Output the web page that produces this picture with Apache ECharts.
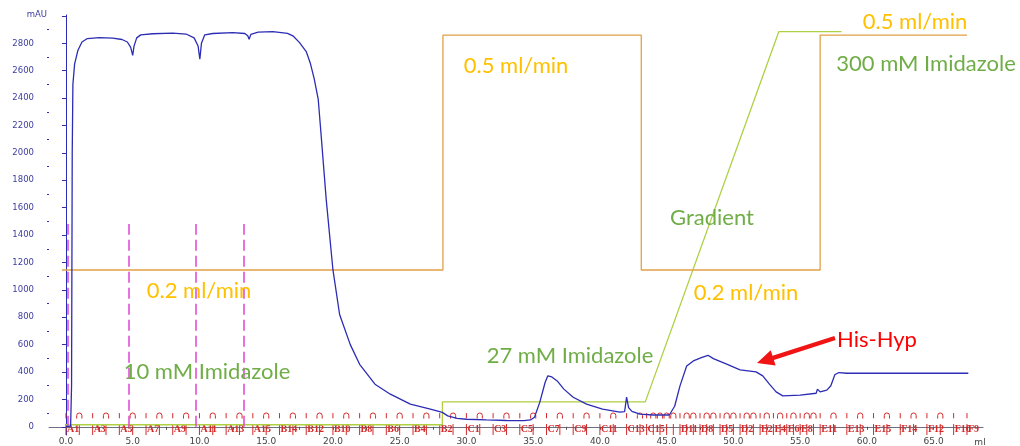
<!DOCTYPE html>
<html>
<head>
<meta charset="utf-8">
<script src="https://cdn.jsdelivr.net/npm/echarts@6/dist/echarts.min.js"></script>
<style>
  html, body { margin: 0; padding: 0; background: #ffffff; }
  #chart { width: 1020px; height: 446px; }
</style>
</head>
<body>
<div id="chart"></div>
<script>
// UV absorbance trace: elution volume (ml) and absorbance (mAU)
const uvVolume = [0.0, 0.35, 0.42, 0.47, 0.52, 0.65, 0.9, 1.2, 1.6, 2.5, 3.5, 4.2, 4.6, 4.85, 5.0, 5.1, 5.3, 5.6, 6.5, 8.0,
  9.0, 9.6, 9.9, 10.03, 10.15, 10.4, 11.0, 12.5, 13.4, 13.62, 13.72, 13.85, 14.4, 15.5, 16.6, 17.0, 17.5, 18.0, 18.3, 18.6,
  18.9, 19.1, 19.5, 20.0, 20.5, 21.3, 22.0, 23.15, 24.3, 25.8, 27.3, 28.2, 28.6, 29.3, 30.0, 31.5, 33.0, 34.3, 34.8, 35.1,
  35.5, 35.9, 36.1, 36.4, 36.8, 37.3, 38.0, 39.0, 40.2, 41.5, 41.85, 42.0, 42.15, 42.4, 43.0, 44.0, 45.2, 45.6, 46.0, 46.5,
  47.0, 47.6, 48.1, 48.5, 49.5, 50.5, 51.7, 52.2, 52.7, 53.2, 53.7, 55.0, 56.2, 56.3, 56.5, 57.0, 57.3, 57.6, 57.9, 58.5, 67.6];
const uvAbs = [2, 5, 300, 2000, 2500, 2650, 2750, 2810, 2835, 2842, 2838, 2828, 2810, 2770, 2712, 2780, 2840, 2862, 2870, 2875,
  2868, 2840, 2780, 2684, 2800, 2862, 2872, 2878, 2872, 2855, 2830, 2865, 2882, 2885, 2873, 2855, 2805, 2740, 2657, 2540,
  2390, 2150, 1657, 1147, 820, 600, 456, 311, 238, 165, 129, 105, 80, 62, 55, 50, 46, 45, 50, 70,
  180, 325, 372, 364, 335, 275, 216, 165, 129, 107, 110, 216, 140, 112, 92, 86, 86, 150, 299, 444,
  481, 505, 522, 498, 457, 416, 401, 372, 311, 255, 226, 231, 245, 275, 255, 268, 300, 380, 396, 391, 391];

// Flow rate trace (drawn on the mAU scale)
const flowVolume = [-0.3, 28.24, 28.24, 43.1, 43.1, 56.5, 56.5, 67.5];
const flowLevel = [1145, 1145, 2860, 2860, 1145, 1145, 2860, 2860];

// Imidazole concentration trace (drawn on the mAU scale)
const concVolume = [0.0, 28.2, 28.2, 43.4, 53.4, 58.1];
const concLevel = [15, 15, 182, 182, 2885, 2885];

// Injection marks (ml) and their height (mAU)
const injectVolume = [0.15, 4.72, 9.74, 13.33];
const injectTop = 1480;

// Fraction collector marks
const fractionNames = ['A1','A2','A3','A4','A5','A6','A7','A8','A9','A10','A11','A12','A13','A14','A15',
  'B15','B14','B13','B12','B11','B10','B9','B8','B7','B6','B5','B4','B3','B2','B1',
  'C1','C2','C3','C4','C5','C6','C7','C8','C9','C10','C11','C12','C13','C14','C15',
  'D15','D14','D13','D12','D11','D10','D9','D8','D7','D6','D5','D4','D3','D2','D1',
  'E1','E2','E3','E4','E5','E6','E7','E8','E9','E10','E11','E12','E13','E14','E15',
  'F15','F14','F13','F12','F11','F10','F9'];
const fractionStarts = [0,1,2,3,4,5,6,7,8,9,10,11,12,13,14,
  15,16,17,18,19,20,21,22,23,24,25,26,27,28,29,
  30,31,32,33,34,35,36,37,38,39,40,41,42,43,43.5,
  44,44.5,45,45.5,46,46.5,47,47.5,48,48.5,49,49.5,50,50.5,51,
  51.5,52,52.5,53,53.5,54,54.5,55,55.5,56,56.5,57.5,58.5,59.5,60.5,
  61.5,62.5,63.5,64.5,65.5,66.5,67.5];
const labelledFractions = ['A1','A3','A5','A7','A9','A11','A13','A15','B14','B12','B10','B8','B6','B4','B2',
  'C1','C3','C5','C7','C9','C11','C13','C15','D11','D8','D5','D2','E2','E4','E6','E8','E11','E13','E15',
  'F14','F12','F10','F9'];

// Axis ticks and labels
const xLabelValues = [0,5,10,15,20,25,30,35,40,45,50,55,60,65];
const xTickValues = [0,2.5,5,7.5,10,12.5,15,17.5,20,22.5,25,27.5,30,32.5,35,37.5,40,42.5,45,47.5,50,52.5,55,57.5,60,62.5,65,67.5];
const yLabelValues = [0,200,400,600,800,1000,1200,1400,1600,1800,2000,2200,2400,2600,2800];
const yTickValues = [0,200,400,600,800,1000,1200,1400,1600,1800,2000,2200,2400,2600,2800,3000];
const yMinorValues = [100,300,500,700,900,1100,1300,1500,1700,1900,2100,2300,2500,2700,2900];

const UV_BLUE = '#2c2cb4';
const FLOW_ORANGE = '#e2a046';
const CONC_GREEN = '#aed043';
const INJECT_MAGENTA = '#e04fd8';
const FRAC_RED = '#d42a2a';
const GOLD_TEXT = '#ffc000';
const GREEN_TEXT = '#70ad47';

const pair = (xs, ys) => xs.map((x, i) => [x, ys[i]]);

const chart = echarts.init(document.getElementById('chart'), null, { renderer: 'canvas' });

// Red arrow pointing at the product peak
function arrowPoints(tail, tip, shaftHalf, headLen, headHalf) {
  const dx = tip[0] - tail[0], dy = tip[1] - tail[1];
  const len = Math.hypot(dx, dy);
  const ux = dx / len, uy = dy / len;
  const nx = -uy, ny = ux;
  const bx = tip[0] - ux * headLen, by = tip[1] - uy * headLen;
  return [
    [tail[0] + nx * shaftHalf, tail[1] + ny * shaftHalf],
    [bx + nx * shaftHalf, by + ny * shaftHalf],
    [bx + nx * headHalf, by + ny * headHalf],
    tip,
    [bx - nx * headHalf, by - ny * headHalf],
    [bx - nx * shaftHalf, by - ny * shaftHalf],
    [tail[0] - nx * shaftHalf, tail[1] - ny * shaftHalf]
  ];
}

const noteFont = '"Lato", "Open Sans", sans-serif';
function note(text, x, y, color) {
  return {
    type: 'text', x: x, y: y, z: 100,
    style: { text: text, fill: color, fontSize: 22, fontFamily: noteFont, align: 'center', verticalAlign: 'middle' }
  };
}

const option = {
  animation: false,
  backgroundColor: '#ffffff',
  grid: { left: 49, right: 37, top: 15, bottom: 10 },
  xAxis: {
    type: 'value', min: -1.27, max: 68.7,
    axisLine: { lineStyle: { color: '#6e6e80', width: 1 } },
    axisTick: { show: true, customValues: xTickValues, length: 3, lineStyle: { color: '#555555' } },
    axisLabel: {
      customValues: xLabelValues, formatter: v => v.toFixed(1), margin: 2,
      fontSize: 9, color: '#444444', fontFamily: '"DejaVu Sans", sans-serif'
    },
    splitLine: { show: false }
  },
  yAxis: [{
    type: 'value', min: -60, max: 3007,
    name: 'mAU', nameLocation: 'end', nameGap: 0,
    nameTextStyle: { color: '#3c3ca0', fontSize: 8.5, fontFamily: '"DejaVu Sans", sans-serif', align: 'right', verticalAlign: 'middle', padding: [0, 19, 0, 0] },
    axisLine: { show: true, lineStyle: { color: UV_BLUE, width: 1 } },
    axisTick: { show: true, customValues: yTickValues, length: 4, lineStyle: { color: UV_BLUE } },
    axisLabel: {
      customValues: yLabelValues, formatter: v => String(v), margin: 15,
      fontSize: 8.5, color: '#3c3ca0', fontFamily: '"DejaVu Sans", sans-serif'
    },
    splitLine: { show: false }
  }, {
    type: 'value', min: -60, max: 3007, position: 'left',
    axisLine: { show: false },
    axisTick: { show: true, customValues: yMinorValues, length: 2, lineStyle: { color: UV_BLUE } },
    axisLabel: { show: false },
    splitLine: { show: false }
  }],
  series: [{
    name: 'Fractions', type: 'custom', z: 1,
    data: fractionStarts.map((x, i) => [x, i]),
    encode: { x: 0 },
    renderItem: function (params, api) {
      const i = api.value(1);
      const x = api.value(0);
      const name = fractionNames[i];
      const shown = labelledFractions.indexOf(name) >= 0;
      const base = api.coord([x, -60]);
      const top = api.coord([x, 20]);
      const children = [{
        type: 'line', shape: { x1: base[0], y1: base[1], x2: top[0], y2: top[1] },
        style: { stroke: FRAC_RED, lineWidth: 1 }
      }];
      if (shown) {
        const a = api.coord([x, 100]);
        const b = api.coord([x, 62]);
        children.push({ type: 'line', shape: { x1: a[0], y1: a[1], x2: b[0], y2: b[1] }, style: { stroke: FRAC_RED, lineWidth: 1 } });
        const lp = api.coord([x, -17]);
        children.push({
          type: 'text', x: lp[0] + 1, y: lp[1],
          style: { text: name, fill: FRAC_RED, fontSize: 10, fontWeight: 'bold', fontFamily: '"Liberation Serif", serif', align: 'left', verticalAlign: 'middle' }
        });
      } else {
        const c = api.coord([x, 82]);
        const cx = c[0], cy = c[1], r = 2.6;
        children.push({
          type: 'path',
          shape: { pathData: 'M' + (cx - r) + ' ' + (cy + 3) + ' L' + (cx - r) + ' ' + cy +
            ' A' + r + ' ' + r + ' 0 0 1 ' + (cx + r) + ' ' + cy + ' L' + (cx + r) + ' ' + (cy + 3) },
          style: { stroke: FRAC_RED, fill: null, lineWidth: 1 }
        });
      }
      return { type: 'group', children: children };
    }
  }, {
    name: 'Imidazole', type: 'line', z: 2, showSymbol: false, silent: true,
    data: pair(concVolume, concLevel),
    lineStyle: { color: CONC_GREEN, width: 1.3 }
  }, {
    name: 'Flow', type: 'line', z: 3, showSymbol: false, silent: true,
    data: pair(flowVolume, flowLevel),
    lineStyle: { color: FLOW_ORANGE, width: 1.3 }
  }, {
    name: 'Injection', type: 'line', z: 4, showSymbol: false, silent: true,
    data: [],
    markLine: {
      silent: true, symbol: ['none', 'none'], label: { show: false },
      lineStyle: { color: INJECT_MAGENTA, width: 1.6, type: [11, 5] },
      data: injectVolume.map(v => [{ coord: [v, 0] }, { coord: [v, injectTop] }])
    }
  }, {
    name: 'UV', type: 'line', z: 5, showSymbol: false, silent: true,
    data: pair(uvVolume, uvAbs),
    lineStyle: { color: UV_BLUE, width: 1.3 }
  }],
  graphic: [
    note('0.5 ml/min', 516, 66, GOLD_TEXT),
    note('0.2 ml/min', 199, 291, GOLD_TEXT),
    note('10 mM Imidazole', 207, 372, GREEN_TEXT),
    note('27 mM Imidazole', 570, 356, GREEN_TEXT),
    note('Gradient', 712, 218, GREEN_TEXT),
    note('0.2 ml/min', 746, 293, GOLD_TEXT),
    note('300 mM Imidazole', 926, 64, GREEN_TEXT),
    note('0.5 ml/min', 915, 22, GOLD_TEXT),
    note('His-Hyp', 877, 340, '#ff0000'),
    {
      type: 'polygon', z: 100,
      shape: { points: arrowPoints([835, 338], [757, 363], 2.2, 17, 8) },
      style: { fill: '#f01414' }
    },
    {
      type: 'text', x: 980, y: 443, z: 100,
      style: { text: 'ml', fill: '#444444', fontSize: 9, fontFamily: '"DejaVu Sans", sans-serif', align: 'center', verticalAlign: 'middle' }
    }
  ]
};

chart.setOption(option);
</script>
</body>
</html>
